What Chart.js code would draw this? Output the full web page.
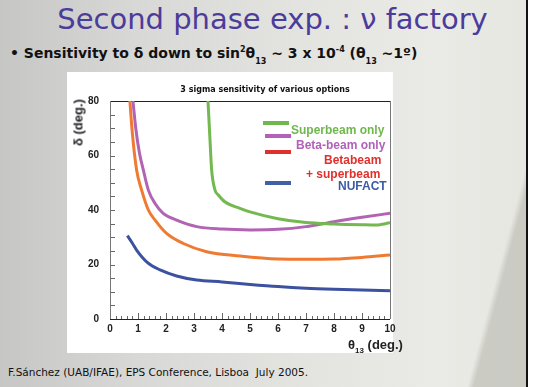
<!DOCTYPE html>
<html>
<head>
<meta charset="utf-8">
<script src="https://cdn.jsdelivr.net/npm/chart.js@4.4.1/dist/chart.umd.min.js"></script>
<style>
  html, body { margin: 0; padding: 0; }
  #slide {
    position: relative; width: 545px; height: 387px; overflow: hidden;
    background:
      linear-gradient(105deg, rgba(0,0,0,0) 0%, rgba(0,0,0,0) 88%, rgba(150,150,140,0.35) 89%, rgba(150,150,140,0.35) 100%),
      linear-gradient(90deg, #c6c6c4 0%, #d8d8d6 25%, #e3e3e0 55%, #eaeae6 80%, #e6e6e0 100%);
    font-family: "DejaVu Sans", sans-serif;
  }
  #edge { position: absolute; left: 526px; top: 0; width: 19px; height: 387px; background: #fff; border-left: 2px solid #111; }
  #title { position: absolute; left: 0; width: 545px; top: 2px; text-align: center; color: #4b3c9b; font-size: 29px; }
  #sub { position: absolute; left: 10px; top: 45px; font-size: 14px; font-weight: bold; color: #111; white-space: nowrap; }
  #sub sub { font-size: 8px; vertical-align: -6px; }
  #sub sup { font-size: 8px; vertical-align: 6px; }
  #box { position: absolute; left: 67px; top: 72px; width: 326px; height: 281px; background: #fff; }
  #chartWrap { position: absolute; left: 60px; top: 72px; width: 350px; height: 281px; }
  #ctitle { position: absolute; left: 140px; width: 250px; top: 85px; text-align: center; font-size: 8px; font-weight: bold; color: #111; }
  #ytitle { position: absolute; left: 48px; top: 115px; width: 60px; text-align: center; transform: rotate(-90deg); font: bold 13px "Liberation Sans", sans-serif; color: #222; }
  #xtitle { position: absolute; left: 348px; top: 337px; font: bold 13px "Liberation Sans", sans-serif; color: #222; white-space: nowrap; }
  #xtitle sub { font-size: 8px; }
  .leg { position: absolute; font: bold 12px "Liberation Sans", sans-serif; white-space: nowrap; }
  .sw { position: absolute; height: 4px; width: 26px; }
  #foot { position: absolute; left: 8px; top: 366px; font-size: 10.5px; color: #111; white-space: nowrap; }
</style>
</head>
<body>
<div id="slide">
  <div id="edge"></div>
  <div id="title">Second phase exp. : ν factory</div>
  <div id="sub">• Sensitivity to δ down to sin<sup>2</sup>θ<sub>13</sub> ~ 3 x 10<sup>-4</sup> (θ<sub>13</sub> ~1º)</div>
  <div id="box"></div>
  <div id="chartWrap"><canvas id="chart" width="350" height="281"></canvas></div>
  <div id="ctitle">3 sigma sensitivity of various options</div>
  <div id="ytitle">δ (deg.)</div>
  <div id="xtitle">θ<sub>13</sub> (deg.)</div>

  <div class="sw" style="left:263px;top:121px;background:#6fb84e"></div>
  <div class="leg" style="left:291px;top:123px;color:#6fb84e">Superbeam only</div>
  <div class="sw" style="left:265px;top:134px;background:#b260b8"></div>
  <div class="leg" style="left:296px;top:138px;color:#b260b8">Beta-beam only</div>
  <div class="sw" style="left:265px;top:150px;background:#e0302c"></div>
  <div class="leg" style="left:324px;top:153px;color:#e0302c">Betabeam</div>
  <div class="leg" style="left:306px;top:167px;color:#e0302c">+ superbeam</div>
  <div class="sw" style="left:265px;top:181px;background:#4060a8"></div>
  <div class="leg" style="left:338px;top:179px;color:#3d5aa8">NUFACT</div>

  <div id="foot">F.Sánchez (UAB/IFAE), EPS Conference, Lisboa&nbsp; July 2005.</div>
</div>
<script>
// curves: theta13 (deg.) vs delta (deg.)
const thetaSuper = [3.5, 3.57, 3.63, 3.75, 3.87, 4.1, 4.64, 5, 6, 7, 8, 9, 9.5, 10];
const deltaSuper = [80, 66, 54.7, 47.3, 45.5, 43, 40.6, 39.3, 36.8, 35.4, 34.9, 34.6, 34.5, 35.3];

const thetaBeta = [0.82, 0.92, 1.05, 1.19, 1.37, 1.61, 1.9, 2.38, 3.1, 4, 5, 6, 7, 8, 9, 10];
const deltaBeta = [80, 70, 61, 54.7, 47.3, 42.4, 38.8, 36.3, 33.9, 33.0, 32.7, 32.9, 33.9, 35.7, 37.3, 38.8];

const thetaCombo = [0.71, 0.8, 0.95, 1.13, 1.37, 1.61, 2.02, 2.62, 3.45, 4.64, 6, 7, 8, 9, 10];
const deltaCombo = [80, 68, 54.7, 47.3, 40, 36.3, 31.4, 27.7, 24.7, 23.1, 22.0, 21.9, 22.0, 22.6, 23.5];

const thetaNufact = [0.62, 0.8, 0.95, 1.31, 1.79, 2.38, 3.1, 4, 5, 6, 7, 8, 9, 10];
const deltaNufact = [30.6, 27.8, 25.3, 21, 18, 15.8, 14.3, 13.6, 12.7, 11.9, 11.3, 10.9, 10.6, 10.4];

function pts(xs, ys) {
    return xs.map((x, i) => ({ x: x, y: ys[i] }));
}

function curve(label, xs, ys, color) {
    return {
        label: label,
        data: pts(xs, ys),
        showLine: true,
        borderColor: color,
        borderWidth: 3,
        pointRadius: 0,
        cubicInterpolationMode: 'monotone',
        fill: false
    };
}

// frame and inward ticks
const framePlugin = {
    id: 'frame',
    beforeDatasetsDraw(chart) {
        const ctx = chart.ctx;
        const a = chart.chartArea;
        const xs = chart.scales.x;
        const ys = chart.scales.y;
        ctx.save();
        ctx.lineWidth = 1;
        ctx.strokeStyle = '#666';
        for (let i = 0; i <= 50; i++) {
            const px = Math.round(xs.getPixelForValue(i * 0.2)) + 0.5;
            const len = i % 5 === 0 ? 6 : 3;
            ctx.beginPath();
            ctx.moveTo(px, a.bottom);
            ctx.lineTo(px, a.bottom - len);
            ctx.stroke();
        }
        for (let v = 0; v <= 80; v += 5) {
            const py = Math.round(ys.getPixelForValue(v)) + 0.5;
            ctx.beginPath();
            ctx.moveTo(a.left, py);
            ctx.lineTo(a.left + 5, py);
            ctx.stroke();
        }
        ctx.strokeStyle = '#222';
        ctx.beginPath();
        ctx.moveTo(a.left, Math.round(a.top) + 0.5);
        ctx.lineTo(a.right, Math.round(a.top) + 0.5);
        ctx.moveTo(a.left, Math.round(a.bottom) + 0.5);
        ctx.lineTo(a.right, Math.round(a.bottom) + 0.5);
        ctx.stroke();
        ctx.strokeStyle = '#777';
        ctx.beginPath();
        ctx.moveTo(Math.round(a.left) + 0.5, a.top);
        ctx.lineTo(Math.round(a.left) + 0.5, a.bottom);
        ctx.moveTo(Math.round(a.right) + 0.5, a.top);
        ctx.lineTo(Math.round(a.right) + 0.5, a.bottom);
        ctx.stroke();
        ctx.restore();
    }
};

const tickFont = { family: "'Liberation Sans Narrow', 'Liberation Sans', sans-serif", size: 10, weight: 'bold' };

new Chart(document.getElementById('chart'), {
    type: 'scatter',
    data: {
        datasets: [
            curve('Superbeam only', thetaSuper, deltaSuper, '#74b94f'),
            curve('Beta-beam only', thetaBeta, deltaBeta, '#b263b4'),
            curve('Betabeam + superbeam', thetaCombo, deltaCombo, '#ef7a32'),
            curve('NUFACT', thetaNufact, deltaNufact, '#3c52a0')
        ]
    },
    options: {
        responsive: false,
        animation: false,
        layout: { padding: { left: 0, top: 29, right: 20, bottom: 0 } },
        plugins: { legend: { display: false }, tooltip: { enabled: false } },
        scales: {
            x: {
                type: 'linear', min: 0, max: 10,
                ticks: { stepSize: 1, color: '#222', font: tickFont, padding: 4 },
                grid: { display: false, drawTicks: false },
                border: { display: false },
                afterFit: s => { s.height = 34; }
            },
            y: {
                type: 'linear', min: 0, max: 80,
                ticks: { stepSize: 20, color: '#222', font: tickFont, padding: 11 },
                grid: { display: false, drawTicks: false },
                border: { display: false },
                afterFit: s => { s.width = 50; }
            }
        }
    },
    plugins: [framePlugin]
});
</script>
</body>
</html>
